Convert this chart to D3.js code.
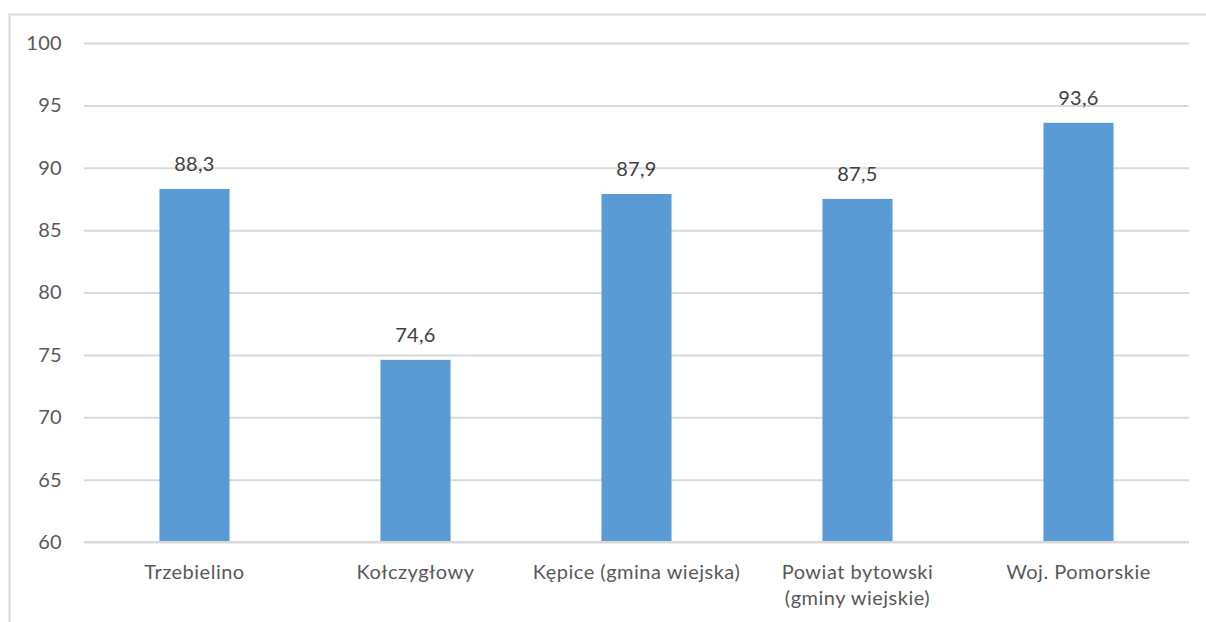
<!DOCTYPE html>
<html><head><meta charset="utf-8">
<script src="https://cdn.jsdelivr.net/npm/d3@7"></script>
<style>body{margin:0;background:#fff}svg{display:block}text{font-family:Lato,"Noto Sans",sans-serif}</style>
</head><body><svg id="c" width="1206" height="622"></svg>
<script>
const categories = [["Trzebielino"],["Kołczygłowy"],["Kępice (gmina wiejska)"],["Powiat bytowski","(gminy wiejskie)"],["Woj. Pomorskie"]];
const values = [88.3, 74.6, 87.9, 87.5, 93.6];
const yTicks = [60,65,70,75,80,85,90,95,100];

const svg = d3.select("#c");
svg.append("rect").attr("x",9.5).attr("y",14.5).attr("width",1300).attr("height",700)
  .attr("fill","none").attr("stroke","#d9d9d9").attr("stroke-width",2);

const m = {l:84, r:1189, t:43, b:542};
const x = d3.scaleBand().domain(d3.range(values.length)).range([m.l,m.r]).paddingInner(0.683).paddingOuter(0.3415);
const y = d3.scaleLinear().domain([60,100]).range([m.b,m.t]);

const yAxis = d3.axisLeft(y).tickValues(yTicks).tickSize(-(m.r-m.l)).tickPadding(22);
const gy = svg.append("g").attr("transform",`translate(${m.l},0)`).call(yAxis);
gy.select(".domain").remove();
gy.selectAll(".tick line").attr("stroke","#d9d9d9").attr("stroke-width",2);
gy.selectAll(".tick text").attr("fill","#595959").style("font-size","20px").style("letter-spacing","0.3px");

svg.selectAll("rect.bar").data(values).enter().append("rect").attr("class","bar")
  .attr("x",(d,i)=>x(i)).attr("width",x.bandwidth())
  .attr("y",d=>y(d)).attr("height",d=>y(60)-y(d)).attr("fill","#5b9bd5");

svg.append("line").attr("x1",m.l).attr("x2",m.r).attr("y1",y(60)).attr("y2",y(60)).attr("stroke","#d9d9d9").attr("stroke-width",2);

svg.selectAll("text.val").data(values).enter().append("text").attr("class","val")
  .attr("x",(d,i)=>x(i)+x.bandwidth()/2).attr("y",d=>y(d)-18)
  .attr("text-anchor","middle").attr("fill","#404040").style("font-size","20px").style("letter-spacing","0.3px")
  .text(d=>d.toFixed(1).replace(".",","));

const cg = svg.selectAll("text.cat").data(categories).enter().append("text").attr("class","cat")
  .attr("x",(d,i)=>x(i)+x.bandwidth()/2).attr("y",579)
  .attr("text-anchor","middle").attr("fill","#595959").style("font-size","20px").style("letter-spacing","0.5px");
cg.each(function(d){
  const t=d3.select(this); const cx=t.attr("x");
  d.forEach((line,k)=>t.append("tspan").attr("x",cx).attr("dy",k===0?0:26).text(line));
});
</script></body></html>
